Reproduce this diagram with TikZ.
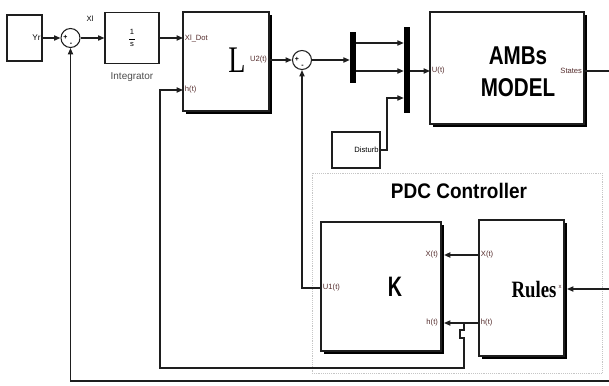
\documentclass[tikz,border=0pt]{standalone}
\usepackage{fontspec}
\setmainfont{Liberation Sans}
\newfontfamily\serifblk{Liberation Serif}
\usetikzlibrary{arrows.meta,shadows}
\definecolor{portred}{RGB}{85,45,45}
\definecolor{wirecol}{RGB}{30,30,30}

\begin{document}
\begin{tikzpicture}[x=0.03cm, y=-0.03cm,
  every node/.style={font=\fontsize{6.5}{7}\selectfont},
  >={Triangle[length=5.5pt,width=4.5pt]},
  wire/.style={draw=wirecol, line width=1pt},
  sig/.style={wire, ->},
  blk/.style={draw=wirecol, line width=0.9pt, fill=white, inner sep=0pt},
  shblk/.style={blk, drop shadow={shadow xshift=0.1cm, shadow yshift=-0.1cm, fill=black, opacity=1}},
  sumblk/.style={circle, draw=wirecol, line width=0.9pt, fill=white, minimum size=0.57cm, inner sep=0pt},
  bar/.style={fill=black, inner sep=0pt, minimum width=0.18cm},
  port/.style={text=portred, inner sep=1.5pt},
  sgn/.style={inner sep=0pt, font=\fontsize{6}{6}\selectfont\bfseries}]
  \useasboundingbox (0,0) rectangle (609,385);

  \node[draw=gray!45, densely dotted, line width=0.6pt, minimum width=8.7cm, minimum height=6cm] (pdc) at (457,273) {};
  \node[font=\fontsize{18}{20}\selectfont\bfseries] (pdct) at (459,191) {\scalebox{0.9}[1]{PDC Controller}};

  \node[blk, minimum width=1.05cm, minimum height=1.38cm] (yr) at (24.5,38) {};
  \node[port, left, text=black, font=\fontsize{7}{8}\selectfont] (yrt) at (yr.east) {Yr};
  \node[sumblk] (sum1) at (70.5,38) {};
  \node[sgn] (s1p) at (65.5,37.5) {+};
  \node[sgn] (s1m) at (71,44.5) {-};
  \node (xl) at (90,19) {Xl};
  \node[blk, minimum width=1.62cm, minimum height=1.53cm, align=center] (integ) at (132,38) {1\\[-3pt]\rule{5pt}{0.4pt}\\[-1pt]s};
  \node[font=\fontsize{8.5}{9}\selectfont, text=black!70] (integt) at (132,77) {Integrator};

  \node[shblk, minimum width=2.58cm, minimum height=2.97cm] (L) at (226,61.5) {};
  \node[font=\serifblk\fontsize{32}{32}\selectfont] (Lt) at (237,60) {\scalebox{0.75}[1]{L}};
  \coordinate (pLx) at (183,38);
  \coordinate (pLh) at (183,90);
  \coordinate (pLu) at (269,60);
  \node[port, right] (tLx) at (pLx) {Xl\_Dot};
  \node[port, right] (tLh) at (pLh) {h(t)};
  \node[port, left] (tLu) at (pLu) {U2(t)};

  \node[sumblk] (sum2) at (302,60) {};
  \node[sgn] (s2p) at (297,59.5) {+};
  \node[sgn] (s2m) at (302.5,66.5) {-};
  \node[bar, minimum height=1.53cm] (mux1) at (353,57) {};
  \node[bar, minimum height=2.58cm] (mux2) at (407,70) {};
  \node[blk, minimum width=1.44cm, minimum height=1.08cm] (dist) at (356,150) {};
  \node[port, left, text=black] (distt) at (dist.east) {Disturb};

  \node[shblk, minimum width=4.62cm, minimum height=3.36cm] (amb) at (507,68) {};
  \node[font=\fontsize{22}{27}\selectfont\bfseries, align=center] (ambt) at (518,72) {\scalebox{0.8}[1]{AMBs}\\\scalebox{0.8}[1]{MODEL}};
  \coordinate (pAu) at (430,71);
  \coordinate (pAs) at (584,71);
  \node[port, right] (tAu) at (pAu) {U(t)};
  \node[port, left] (tAs) at (pAs) {States};

  \node[shblk, minimum width=3.6cm, minimum height=3.87cm] (K) at (381,286.5) {};
  \node[font=\fontsize{24}{24}\selectfont\bfseries] (Kt) at (395,287) {\scalebox{0.7}[1]{K}};
  \coordinate (pKu) at (321,288);
  \coordinate (pKX) at (444,255);
  \coordinate (pKh) at (444,323);
  \node[port, right] (tKu) at (pKu) {U1(t)};
  \node[port, left, xshift=-3.5pt] (tKX) at (pKX) {X(t)};
  \node[port, left, xshift=-3.5pt] (tKh) at (pKh) {h(t)};

  \node[shblk, minimum width=2.55cm, minimum height=4.08cm] (rules) at (521.5,288) {};
  \node[font=\serifblk\fontsize{20}{20}\selectfont\bfseries] (rulest) at (534,290) {\scalebox{0.8}[1]{Rules}};
  \coordinate (pRX) at (479,255);
  \coordinate (pRh) at (479,323);
  \coordinate (pRx) at (567,289);
  \node[port, right] (tRX) at (pRX) {X(t)};
  \node[port, right] (tRh) at (pRh) {h(t)};
  \node[port, left, xshift=-3pt, yshift=2pt, font=\fontsize{5}{5}\selectfont] (tRx) at (pRx) {x};

  \coordinate (eS) at (609,71);
  \coordinate (eR) at (609,289);
  \coordinate (eB) at (609,381);

  \draw[sig] (yr) -- (sum1);
  \draw[sig] (sum1) -- (integ);
  \draw[sig] (integ) -- (pLx);
  \draw[sig] (pLu) -- (sum2);
  \draw[sig] (sum2) -- (sum2 -| mux1.west);
  \draw[sig] (mux1.east |- 0,43) -- (mux2.west |- 0,43);
  \draw[sig] (mux1.east |- 0,71) -- (mux2.west |- 0,71);
  \draw[sig] (dist.east) -| (387,98) -- (mux2.west |- 0,98);
  \draw[sig] (mux2.east |- pAu) -- (pAu);
  \draw[wire] (pAs) -- (eS);
  \draw[sig] (eR) -- (pRx);
  \draw[sig] (eB) -| (sum1.south);
  \draw[sig] (pKu) -| (sum2.south);
  \draw[sig, line width=1.6pt] (pRX) -- (pKX);
  \draw[sig] (pRh) -- (464,323) coordinate (hb) -- (pKh);
  \draw[sig] (hb) -- (464,330) -- (460,330) -- (460,338) -- (464,338) |- (160,368) |- (pLh);
\end{tikzpicture}
\end{document}
